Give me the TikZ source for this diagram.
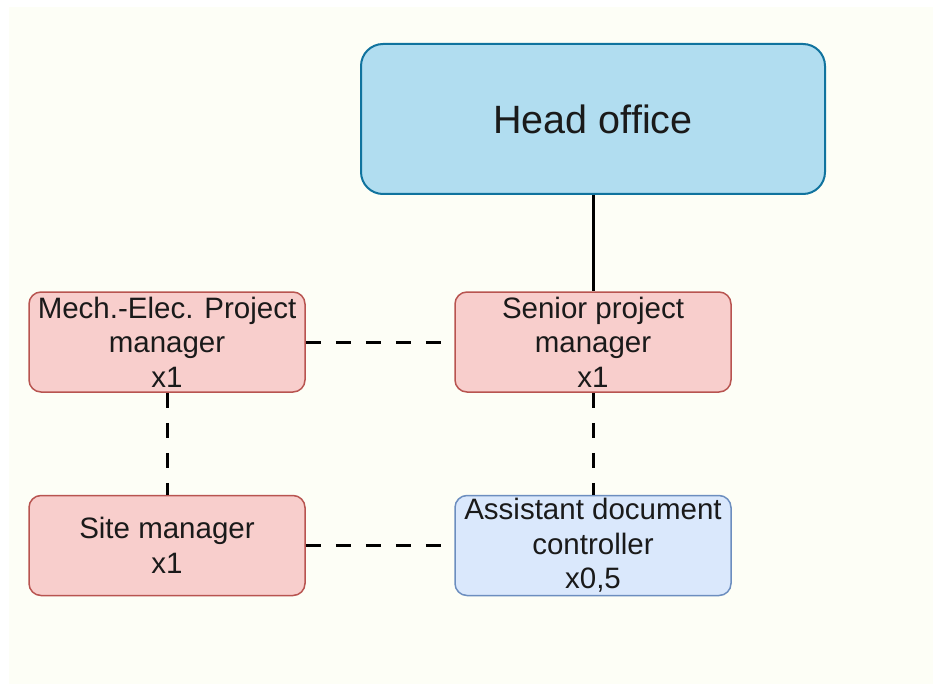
\documentclass[tikz,border=0pt]{standalone}
\usepackage{fontspec}
\setmainfont{Liberation Sans}
\definecolor{bgcream}{RGB}{253,254,246}
\definecolor{headfill}{HTML}{B1DDF0}
\definecolor{headdraw}{HTML}{10739E}
\definecolor{redfill}{HTML}{F8CECC}
\definecolor{reddraw}{HTML}{B85450}
\definecolor{bluefill}{HTML}{DAE8FC}
\definecolor{bluedraw}{HTML}{6C8EBF}
\definecolor{txt}{HTML}{1A1A1A}
\begin{document}
\begin{tikzpicture}[x=1pt,y=-1pt,
  boxbase/.style={rectangle, rounded corners=12pt, inner sep=0pt, align=center,
    minimum width=276pt, minimum height=100pt, line width=1.5pt, text=txt,
    font=\fontsize{29.5}{34.5}\selectfont},
  redbox/.style={boxbase, fill=redfill, draw=reddraw},
  bluebox/.style={boxbase, fill=bluefill, draw=bluedraw},
  headbox/.style={rectangle, rounded corners=22pt, inner sep=0pt, align=center,
    minimum width=464pt, minimum height=150pt, line width=2pt,
    fill=headfill, draw=headdraw, text=txt, font=\fontsize{39.5}{46}\selectfont},
  solidlink/.style={line width=3pt, black},
  dashlink/.style={line width=3pt, black, dash pattern=on 15pt off 15pt}]
\useasboundingbox (0,0) rectangle (933,684);
\fill[white] (0,0) rectangle (933,684);
\fill[bgcream] (9,7) rectangle (933,684);

\node[headbox] (head) at (593,119) {Head office};
\node[redbox] (senior) at (593,342) {Senior project\\manager\\x1};
\node[redbox] (mech) at (167,342) {Mech.-Elec. Project\\manager\\x1};
\node[redbox] (site) at (167,545.5) {Site manager\\x1};
\node[bluebox] (assist) at (593,545.5) {Assistant document\\controller\\x0,5};

\draw[solidlink] (head.south) -- (senior.north);
\draw[dashlink] (mech.east) -- (senior.west);
\draw[dashlink] (mech.south) -- (site.north);
\draw[dashlink] (senior.south) -- (assist.north);
\draw[dashlink] (site.east) -- (assist.west);
\end{tikzpicture}
\end{document}
